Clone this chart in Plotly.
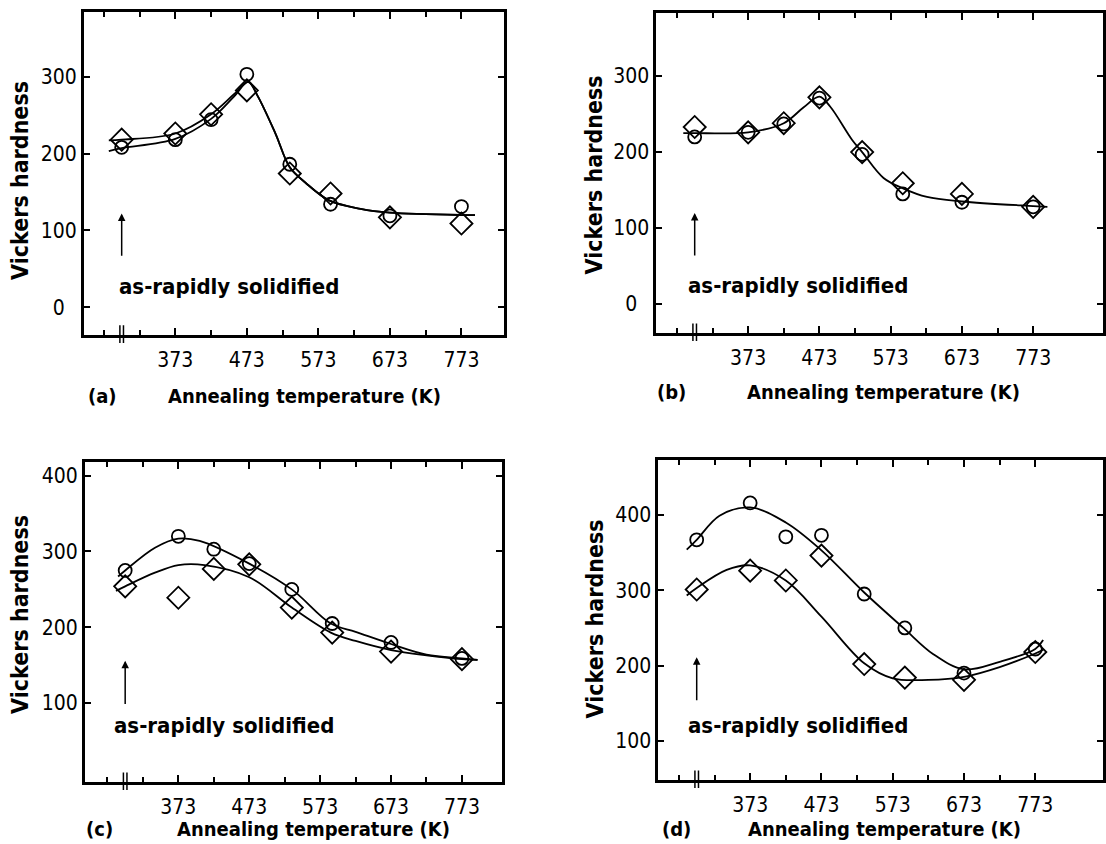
import plotly.graph_objects as go

W, H = 1106, 844

# ---------------- data ----------------
temps = [298, 373, 423, 473, 533, 590, 673, 773]   # first = as-rapidly solidified (room temp.)
AS_RS_X = 298

# panel (a)
a_circ = [208, 218, 244, 303, 186, 134, 119, 131]
a_diam = [218, 226, 251, 282, 174, 148, 117, 109]
a_up_x = [280, 298, 373, 423, 455, 475, 488, 513, 533, 555, 588, 632, 673, 773, 792]
a_up_y = [217, 218, 226, 251, 277, 293, 275, 226, 182, 162, 139, 128, 123, 120, 120]
a_lo_x = [280, 298, 373, 423, 455, 475, 488, 513, 533, 555, 588, 632, 673, 773, 792]
a_lo_y = [203, 207, 219, 245, 274, 293, 275, 226, 182, 162, 139, 128, 123, 120, 120]

# panel (b)
b_circ = [220, 226, 237, 271, 197, 145, 134, 128]
b_diam = [233, 226, 238, 272, 200, 159, 145, 128]
b_x = [282, 298, 373, 423, 451, 473, 488, 519, 533, 563, 591, 624, 673, 773, 793]
b_y = [225, 225, 226, 238, 259, 273, 260, 216, 200, 166, 152, 141, 135, 129, 128]

# panel (c)
c_circ = [275, 320, 303, 284, 250, 205, 180, 159]
c_diam = [254, 239, 277, 283, 226, 193, 168, 158]
c_up_x = [288, 298, 340, 373, 403, 473, 533, 588, 623, 673, 723, 773, 795]
c_up_y = [267, 275, 305, 317, 314, 284, 250, 205, 194, 178, 164, 159, 157]
c_lo_x = [285, 298, 340, 373, 410, 473, 533, 588, 623, 673, 723, 773, 795]
c_lo_y = [248, 254, 272, 282, 282, 266, 226, 193, 182, 170, 163, 158, 157]

# panel (d)
d_circ = [367, 416, 371, 373, 295, 250, 190, 222]
d_diam = [301, 326, 313, 346, 202, 184, 181, 218]
d_up_x = [284, 298, 330, 373, 423, 473, 533, 588, 630, 673, 723, 773, 784]
d_up_y = [354, 367, 399, 410, 390, 353, 297, 250, 215, 195, 205, 222, 234]
d_lo_x = [284, 298, 340, 373, 423, 473, 533, 573, 623, 673, 723, 773, 784]
d_lo_y = [293, 303, 327, 333, 313, 265, 203, 183, 181, 185, 198, 216, 221]

x_major = [373, 473, 573, 673, 773]
x_minor = [273, 323, 423, 523, 623, 723]
x_labels = ["373", "473", "573", "673", "773"]

# ---------------- layout geometry (pixels) ----------------
panels = [
    dict(tag="(a)", l=84, r=505, t=12, b=335, xr=[245, 832], yr=[-36, 384], yt=[0, 100, 200, 300],
         circ=a_circ, diam=a_diam, curves=[(a_up_x, a_up_y), (a_lo_x, a_lo_y)],
         arrow=(65, 122), txt=(291, 27), ytitle=(20, 180), tag_xy=(103, 396), xt_xy=(305, 396)),
    dict(tag="(b)", l=658, r=1106, t=13, b=333, xr=[244, 871], yr=[-38, 383], yt=[0, 100, 200, 300],
         circ=b_circ, diam=b_diam, curves=[(b_x, b_y)],
         arrow=(62, 120), txt=(286, 25), ytitle=(596, 175), tag_xy=(673, 392), xt_xy=(886, 392)),
    dict(tag="(c)", l=85, r=503, t=462, b=782, xr=[241, 829], yr=[-4, 418], yt=[100, 200, 300, 400],
         circ=c_circ, diam=c_diam, curves=[(c_up_x, c_up_y), (c_lo_x, c_lo_y)],
         arrow=(97, 156), txt=(279, 71), ytitle=(20, 614), tag_xy=(100, 829), xt_xy=(314, 829)),
    dict(tag="(d)", l=660, r=1106, t=460, b=780, xr=[244, 868], yr=[48, 473], yt=[100, 200, 300, 400],
         circ=d_circ, diam=d_diam, curves=[(d_up_x, d_up_y), (d_lo_x, d_lo_y)],
         arrow=(152, 211), txt=(283, 120), ytitle=(597, 619), tag_xy=(678, 829), xt_xy=(887, 829)),
]

FONT = "DejaVu Sans Condensed, DejaVu Sans, sans-serif"
fig = go.Figure()
layout = dict(
    width=W, height=H, margin=dict(l=0, r=0, t=0, b=0),
    paper_bgcolor="white", plot_bgcolor="white", showlegend=False,
    font=dict(family=FONT, size=20, color="black"),
)
annotations = []
shapes = []


def px(xp):
    return xp / W


def py(yp):
    return 1 - yp / H


for i, p in enumerate(panels, start=1):
    xa = "x" if i == 1 else f"x{i}"
    ya = "y" if i == 1 else f"y{i}"
    xkey = "xaxis" if i == 1 else f"xaxis{i}"
    ykey = "yaxis" if i == 1 else f"yaxis{i}"
    layout[xkey] = dict(
        domain=[px(p["l"]), px(p["r"])], range=p["xr"], anchor=ya,
        showgrid=False, zeroline=False, showline=True, linecolor="black", linewidth=2.5,
        mirror="ticks", ticks="inside", ticklen=7, tickwidth=2, tickcolor="black",
        tickvals=x_major, ticktext=x_labels, ticklabelstandoff=4,
        tickfont=dict(family=FONT, size=21),
        minor=dict(ticks="inside", tickvals=x_minor, ticklen=5, tickwidth=1.5, tickcolor="black"),
    )
    layout[ykey] = dict(
        domain=[py(p["b"]), py(p["t"])], range=p["yr"], anchor=xa,
        showgrid=False, zeroline=False, showline=True, linecolor="black", linewidth=2.5,
        mirror="ticks", ticks="inside", ticklen=6, tickwidth=1.5, tickcolor="black",
        tickvals=p["yt"], ticktext=[("%d" % v) if v else "0\u2007" for v in p["yt"]],
        tickfont=dict(family=FONT, size=21),
    )
    for cx, cy in p["curves"]:
        fig.add_trace(go.Scatter(x=cx, y=cy, mode="lines", xaxis=xa, yaxis=ya,
                                 line=dict(color="black", width=1.8, shape="spline", smoothing=1.0),
                                 hoverinfo="skip"))
    fig.add_trace(go.Scatter(x=temps, y=p["circ"], mode="markers", xaxis=xa, yaxis=ya,
                             marker=dict(symbol="circle-open", size=13, color="black",
                                         line=dict(width=1.8, color="black"))))
    fig.add_trace(go.Scatter(x=temps, y=p["diam"], mode="markers", xaxis=xa, yaxis=ya,
                             marker=dict(symbol="diamond-open", size=17, color="black",
                                         line=dict(width=1.8, color="black"))))
    for dx in (-2.5, 2.5):
        shapes.append(dict(type="line", xref=xa, yref=f"{ya} domain",
                           x0=AS_RS_X + dx, x1=AS_RS_X + dx, y0=-0.025, y1=0.03,
                           line=dict(color="black", width=1.5)))
    annotations.append(dict(x=AS_RS_X, y=p["arrow"][1], ax=AS_RS_X, ay=p["arrow"][0],
                            xref=xa, yref=ya, axref=xa, ayref=ya, text="", showarrow=True,
                            arrowhead=2, arrowsize=1, arrowwidth=1.5, arrowcolor="black"))
    annotations.append(dict(x=p["txt"][0], y=p["txt"][1], xref=xa, yref=ya,
                            text="<b>as-rapidly solidified</b>",
                            showarrow=False, xanchor="left", yanchor="middle",
                            font=dict(family=FONT, size=22)))
    annotations.append(dict(x=px(p["ytitle"][0]), y=py(p["ytitle"][1]), xref="paper", yref="paper",
                            text="<b>Vickers hardness</b>", textangle=-90, showarrow=False,
                            xanchor="center", yanchor="middle", font=dict(family=FONT, size=23)))
    annotations.append(dict(x=px(p["tag_xy"][0]), y=py(p["tag_xy"][1]), xref="paper", yref="paper",
                            text="<b>" + p["tag"] + "</b>", showarrow=False,
                            xanchor="center", yanchor="middle",
                            font=dict(family=FONT, size=20)))
    annotations.append(dict(x=px(p["xt_xy"][0]), y=py(p["xt_xy"][1]), xref="paper", yref="paper",
                            text="<b>Annealing temperature (K)</b>", showarrow=False,
                            xanchor="center", yanchor="middle", font=dict(family=FONT, size=20)))

layout["annotations"] = annotations
layout["shapes"] = shapes
fig.update_layout(**layout)
fig.write_html("out.html", config={"displayModeBar": False},
               post_script="document.body.style.margin='0px';document.body.style.overflow='hidden';")
